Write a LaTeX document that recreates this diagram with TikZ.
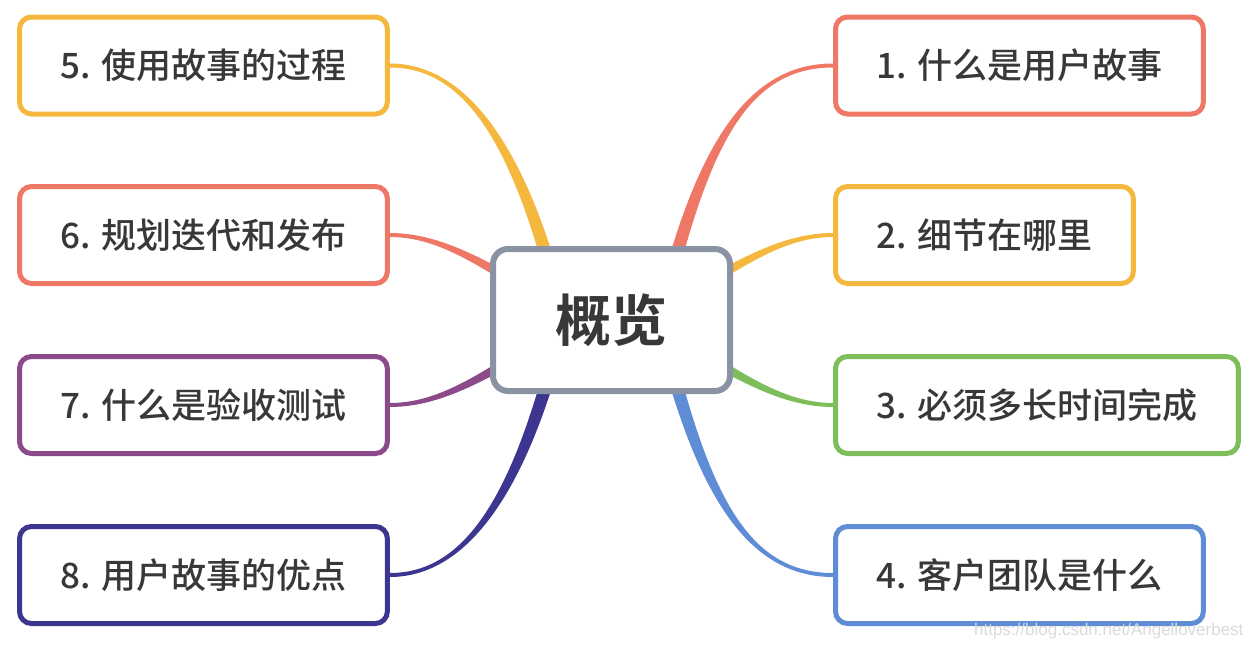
\documentclass[tikz,border=0pt]{standalone}
\usepackage{fontspec}
\newfontfamily\cjk{Noto Sans CJK SC Medium}
\newfontfamily\cjkb{Noto Sans CJK SC Bold}
\newfontfamily\wmfont{Liberation Sans}
\usetikzlibrary{calc,backgrounds}
\definecolor{cred}{HTML}{EE7865}
\definecolor{cyel}{HTML}{F5B83F}
\definecolor{cgrn}{HTML}{7DBE5B}
\definecolor{cblu}{HTML}{5E8DD5}
\definecolor{cpur}{HTML}{8C4A8A}
\definecolor{cnav}{HTML}{3C3690}
\definecolor{cgray}{HTML}{8A93A3}
\definecolor{txt}{HTML}{383838}
\definecolor{wm}{HTML}{DADADA}
\newcommand\mmbranch[7]{\fill[#1] ($#2+#6$) .. controls ($#3+#6$) and ($#4+#7$) .. ($#5+#7$) -- ($#5-#7$) .. controls ($#4-#7$) and ($#3-#6$) .. ($#2-#6$) -- cycle;}
\tikzset{
  leaf/.style={draw=#1, line width=5pt, rounded corners=12pt, fill=white, inner xsep=41pt, minimum height=97pt, anchor=west, font=\cjk\fontsize{35}{40}\selectfont, text=txt},
  hub/.style={draw=cgray, line width=6pt, rounded corners=15pt, fill=white, minimum width=237pt, minimum height=142pt, font=\cjkb\fontsize{56}{60}\selectfont, text=txt},
  wmark/.style={font=\wmfont\fontsize{17}{20}\selectfont, text=wm, anchor=east}
}
\begin{document}
\begin{tikzpicture}[x=1pt,y=-1pt]
\useasboundingbox (0,0) rectangle (1256,648);
\node[hub] (c) at (611.5,320) {概览};
\node[leaf=cred] (n1) at (833,65.5) {1. 什么是用户故事};
\node[leaf=cyel] (n2) at (833,235) {2. 细节在哪里};
\node[leaf=cgrn] (n3) at (833,405) {3. 必须多长时间完成};
\node[leaf=cblu] (n4) at (833,575) {4. 客户团队是什么};
\node[leaf=cyel] (n5) at (17,65.5) {5. 使用故事的过程};
\node[leaf=cred] (n6) at (17,235) {6. 规划迭代和发布};
\node[leaf=cpur] (n7) at (17,405) {7. 什么是验收测试};
\node[leaf=cnav] (n8) at (17,575) {8. 用户故事的优点};
\node[wmark] (w) at (1247,631) {https://blog.csdn.net/Angelloverbest};
\begin{pgfonlayer}{background}
\mmbranch{cred}{(c.center)+(48,0)}{(700,150)}{(745,65.5)}{(n1.west)}{(7,0)}{(0,2)}
\mmbranch{cyel}{(c.center)+(28,0)}{(720,280)}{(770,235)}{(n2.west)}{(2.5,5.5)}{(0,2)}
\mmbranch{cgrn}{(c.center)+(28,0)}{(720,360)}{(770,405)}{(n3.west)}{(-2.5,5.5)}{(0,2)}
\mmbranch{cblu}{(c.center)+(48,0)}{(700,490)}{(745,575)}{(n4.west)}{(-7,0)}{(0,2)}
\mmbranch{cyel}{(c.center)+(-48,0)}{(523,150)}{(468,65.5)}{(n5.east)}{(-7,0)}{(0,2)}
\mmbranch{cred}{(c.center)+(-28,0)}{(503,280)}{(453,235)}{(n6.east)}{(-2.5,5.5)}{(0,2)}
\mmbranch{cpur}{(c.center)+(-28,0)}{(503,360)}{(453,405)}{(n7.east)}{(2.5,5.5)}{(0,2)}
\mmbranch{cnav}{(c.center)+(-48,0)}{(523,490)}{(468,575)}{(n8.east)}{(7,0)}{(0,2)}
\end{pgfonlayer}
\end{tikzpicture}
\end{document}
